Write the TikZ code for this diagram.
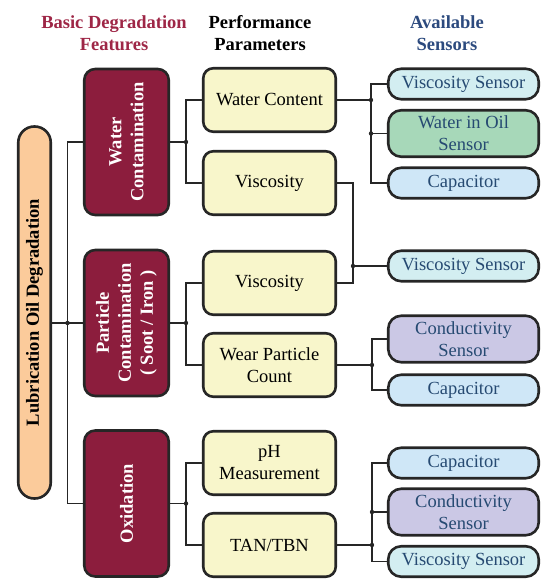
\documentclass[tikz,border=0pt]{standalone}
\usepackage{fontspec}
\setmainfont{Liberation Serif}
\usetikzlibrary{calc}

\definecolor{degred}{HTML}{8C1D3D}
\definecolor{headred}{HTML}{9E2646}
\definecolor{headblue}{HTML}{2C4A7E}
\definecolor{rootorange}{HTML}{FBCB9B}
\definecolor{paryellow}{HTML}{F8F6CB}
\definecolor{viscblue}{HTML}{D3EEF1}
\definecolor{capblue}{HTML}{CFE7F7}
\definecolor{wiogreen}{HTML}{A7D8B9}
\definecolor{condpurple}{HTML}{CBC8E5}
\definecolor{senstext}{HTML}{264A72}

\tikzset{
  box/.style={draw=black!85,line width=2.6pt,align=center,inner sep=2pt,font=\fontsize{18.5}{22}\selectfont},
  rootbox/.style={box,fill=rootorange,rounded corners=16pt,rotate=90,font=\fontsize{18.5}{22}\selectfont\bfseries,minimum width=372pt,minimum height=32.5pt},
  featbox/.style={box,fill=degred,text=white,rounded corners=11pt,rotate=90,font=\fontsize{18.5}{22}\selectfont\bfseries,minimum width=146pt,minimum height=84.5pt},
  parbox/.style={box,fill=paryellow,rounded corners=10pt,minimum width=132.5pt,minimum height=63.5pt},
  sensbox/.style={box,text=senstext,rounded corners=13pt,minimum width=150.5pt,minimum height=30.5pt},
  head/.style={font=\fontsize{18.5}{22}\selectfont\bfseries,align=center},
  conn/.style={draw=black!85,line width=1.4pt},
  dot/.style={fill=black!85}
}

\begin{document}
\begin{tikzpicture}[x=1pt,y=-1pt]
\useasboundingbox (0,0) rectangle (542,579);
% the headers
\node[head,text=headred] (hfeat) at (114,33) {Basic Degradation\\Features};
\node[head] (hpar) at (260,33) {Performance\\Parameters};
\node[head,text=headblue] (hsens) at (447,33) {Available\\Sensors};
% the boxes
\node[rootbox] (root) at (34.5,312.5) {Lubrication Oil Degradation};
\node[featbox] (water) at (126.5,142) {Water\\Contamination};
\node[featbox] (particle) at (126.5,323) {Particle\\Contamination\\( Soot / Iron )};
\node[featbox] (oxid) at (126.5,503.5) {Oxidation};
\node[parbox] (wcont) at (269.5,100) {Water Content};
\node[parbox] (visc1) at (269.5,183) {Viscosity};
\node[parbox] (visc2) at (269.5,283) {Viscosity};
\node[parbox] (wear) at (269.5,365) {Wear Particle\\Count};
\node[parbox] (ph) at (269.5,463) {pH\\Measurement};
\node[parbox] (tan) at (269.5,545) {TAN/TBN};
\node[sensbox,fill=viscblue] (vs1) at (463.5,84) {Viscosity Sensor};
\node[sensbox,fill=wiogreen,minimum height=46.5pt] (wio) at (463.5,133.5) {Water in Oil\\Sensor};
\node[sensbox,fill=capblue] (cap1) at (463.5,183) {Capacitor};
\node[sensbox,fill=viscblue] (vs2) at (463.5,266) {Viscosity Sensor};
\node[sensbox,fill=condpurple,minimum height=46.5pt] (cond1) at (463.5,339) {Conductivity\\Sensor};
\node[sensbox,fill=capblue] (cap2) at (463.5,390) {Capacitor};
\node[sensbox,fill=capblue] (cap3) at (463.5,463) {Capacitor};
\node[sensbox,fill=condpurple,minimum height=46.5pt] (cond2) at (463.5,512) {Conductivity\\Sensor};
\node[sensbox,fill=viscblue] (vs3) at (463.5,561.5) {Viscosity Sensor};

% the junctions
\coordinate (jr) at (67.5,323);
\coordinate (jw) at (186,142);
\coordinate (jp) at (186,323);
\coordinate (jo) at (186,503.5);
\coordinate (jwc) at (371,100);
\coordinate (jv) at (353,266);
\coordinate (jwp) at (372,365);
\coordinate (jt) at (372,545);

% root to features
\draw[conn] (root.south |- jr) -- (particle.north);
\draw[conn] (water.north) -| (jr) |- (oxid.north);
% features to parameters
\draw[conn] (water.south) -- (jw);
\draw[conn] (wcont.west) -| (jw) |- (visc1.west);
\draw[conn] (particle.south) -- (jp);
\draw[conn] (visc2.west) -| (jp) |- (wear.west);
\draw[conn] (oxid.south) -- (jo);
\draw[conn] (ph.west) -| (jo) |- (tan.west);
% parameters to sensors
\draw[conn] (wcont.east) -- (jwc);
\draw[conn] (vs1.west) -| (jwc) |- (cap1.west);
\draw[conn] (jwc |- wio) -- (wio.west);
\draw[conn] (visc1.east) -| (jv) |- (visc2.east);
\draw[conn] (jv) -- (vs2.west);
\draw[conn] (wear.east) -- (jwp);
\draw[conn] (cond1.west) -| (jwp) |- (cap2.west);
\draw[conn] (tan.east) -- (jt);
\draw[conn] (cap3.west) -| (jt) |- (vs3.west);
\draw[conn] (jt |- cond2) -- (cond2.west);

\foreach \j in {jr,jw,jp,jo,jwc,jv,jwp,jt}
  \fill[dot] (\j) circle (2.2pt);
\fill[dot] (jwc |- wio) circle (2.2pt);
\fill[dot] (jt |- cond2) circle (2.2pt);
\end{tikzpicture}
\end{document}
